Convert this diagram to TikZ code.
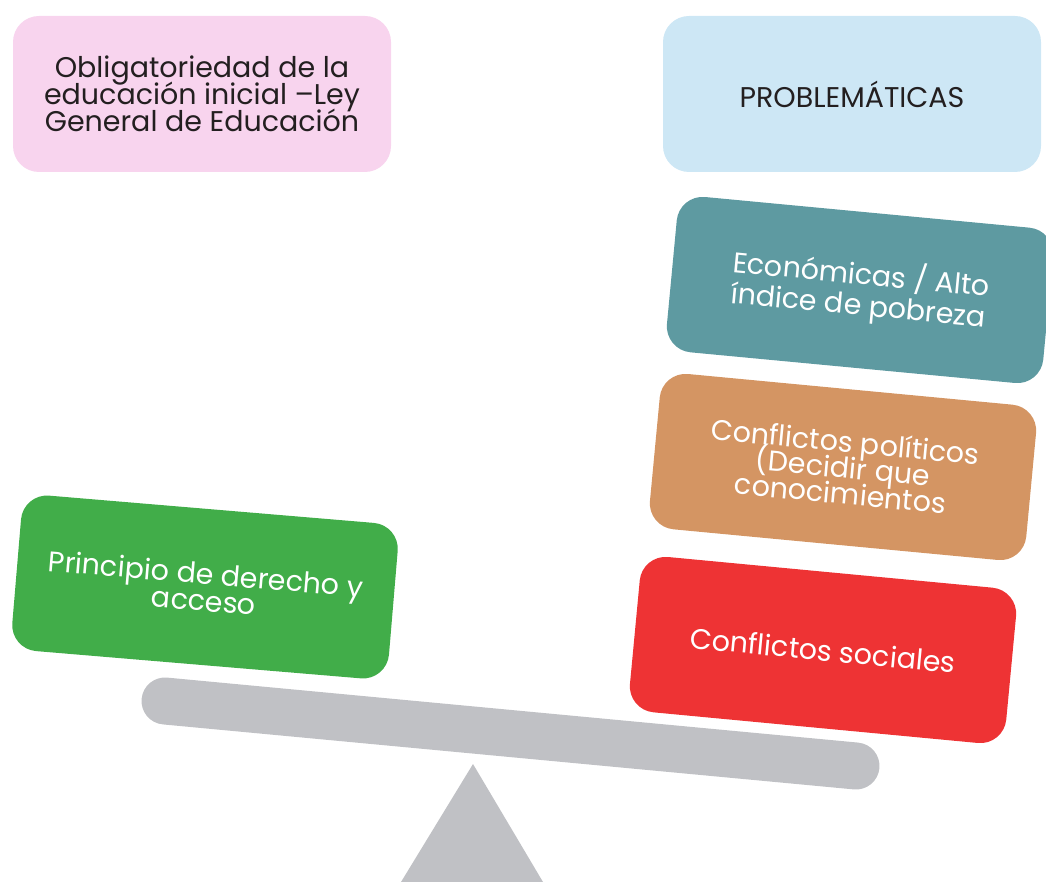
\documentclass[tikz,border=0pt]{standalone}
\usepackage{fontspec}
\setmainfont{Poppins}
\definecolor{pinkbox}{HTML}{F8D4EE}
\definecolor{bluebox}{HTML}{CDE7F5}
\definecolor{tealbox}{HTML}{5E9AA1}
\definecolor{orangebox}{HTML}{D49563}
\definecolor{redbox}{HTML}{EE3334}
\definecolor{greenbox}{HTML}{41AD49}
\definecolor{beamgray}{HTML}{C0C1C5}
\definecolor{darktext}{HTML}{231F20}
\newcommand\cardfont[1]{\fontsize{28.5}{#1}\selectfont\lineskiplimit-50pt\relax}
\begin{document}
\begin{tikzpicture}[x=1pt,y=-1pt,
  card/.style={rounded corners=26pt, minimum width=378pt, minimum height=156pt,
    inner sep=0pt, align=center, font=\cardfont{27}},
  lightcard/.style={card, text=darktext},
  darkcard/.style={card, text=white}]
\useasboundingbox (0,0) rectangle (1046,882);
% fulcrum and beam
\fill[beamgray] (401,882) coordinate (tl) -- (473,764) coordinate (apex) -- (543,882) coordinate (tr) -- cycle;
\coordinate (beamL) at (165,701);
\coordinate (beamR) at (856,766);
\draw[beamgray, line width=47pt, line cap=round] (beamL) -- (beamR);
% cards
\node[lightcard, fill=pinkbox] (oblig) at (202,94) {Obligatoriedad de la\\educación inicial –Ley\\General de Educación};
\node[lightcard, fill=bluebox] (prob) at (852,94) {PROBLEMÁTICAS};
\node[darkcard, fill=tealbox, rotate=-5.4, font=\cardfont{31}] (econ) at (860,290) {Económicas / Alto\\índice de pobreza};
\node[darkcard, fill=orangebox, rotate=-5.4, font=\cardfont{26}] (polit) at (843,467) {Conflictos políticos\\(Decidir que\\conocimientos};
\node[darkcard, fill=redbox, rotate=-5.4] (social) at (823,650) {Conflictos sociales};
\node[darkcard, fill=greenbox, rotate=-4.8] (princ) at (205,587) {Principio de derecho y\\acceso};
\end{tikzpicture}
\end{document}
